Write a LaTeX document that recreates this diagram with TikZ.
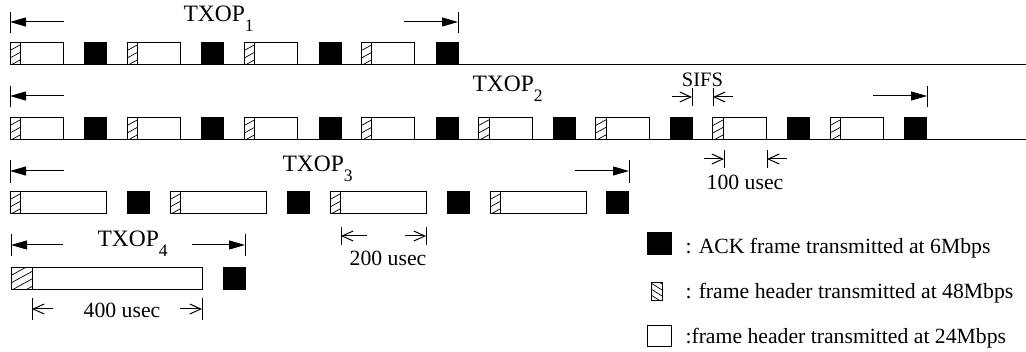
\documentclass[tikz,border=0pt]{standalone}
\usepackage{fontspec}
\setmainfont{Liberation Serif}
\usetikzlibrary{arrows.meta,calc}
\newcommand\labfont{\fontsize{21.7}{26}\selectfont}
\newcommand\txfont{\fontsize{23.5}{28}\selectfont}
\newcommand\subfont{\fontsize{17.5}{20}\selectfont}
\newcommand\txop[1]{TXOP\raisebox{-10pt}{\subfont #1}}

\begin{document}
\begin{tikzpicture}[x=1pt,y=-1pt,line width=1pt,
  hdr/.store in=\hdrw, hdr=10.5,
  hatch/.style={line width=0.7pt},
  ackbox/.style={draw, fill=black, inner sep=0pt, outer sep=0pt,
    minimum width=22pt, minimum height=21.5pt, anchor=north west},
  frm/.style={draw, fill=white, inner sep=0pt, outer sep=0pt,
    minimum width=#1, minimum height=21.5pt, anchor=north west,
    path picture={
      \coordinate (pnw) at (path picture bounding box.north west);
      \coordinate (psw) at (path picture bounding box.south west);
      \foreach \k in {1,...,5}
        \draw[hatch] ($(pnw)+(0,{\k*7.5})$) -- ++(\hdrw,{-0.55*\hdrw});
      \draw ($(pnw)+(\hdrw,0)$) -- ($(psw)+(\hdrw,0)$);
    }},
  keyhdr/.style={draw, fill=white, inner sep=0pt, outer sep=0pt,
    minimum width=11pt, minimum height=18pt, anchor=north west,
    path picture={
      \coordinate (pnw) at (path picture bounding box.north west);
      \foreach \k in {-1,...,3}
        \draw[hatch] ($(pnw)+(0,{\k*6})$) -- ++(11,7);
    }},
  keydat/.style={draw, fill=white, inner sep=0pt, outer sep=0pt,
    minimum width=24pt, minimum height=21pt, anchor=north west},
  txarr/.style={-{Triangle[length=16pt,width=9pt]}},
  dimarr/.style={-{Straight Barb[length=11pt,width=10pt]}},
  lab/.style={inner sep=0pt, font=\labfont},
  txlab/.style={inner sep=0pt, anchor=base west, font=\txfont},
]
\useasboundingbox (0,0) rectangle (1026,352);

% ---------- row 1 ----------
\coordinate (r1end) at (1026,64.5);
\draw (10,64.5) coordinate (r1start) -- (r1end);
\foreach \i in {0,...,3}{
  \node[frm=53.5pt] (r1f\i) at ({10+117.15*\i},43) {};
  \node[ackbox] (r1a\i) at ({84.7+117.15*\i},43) {};
}
\coordinate (r1L) at (10,22);  \coordinate (r1Ls) at (64,22);
\coordinate (r1R) at (458,22); \coordinate (r1Rs) at (404,22);
\draw[txarr] (r1Ls) -- (r1L);
\draw[txarr] (r1Rs) -- (r1R);
\draw ($(r1L)+(0,-10)$) -- ($(r1L)+(0,11)$);
\draw ($(r1R)+(0,-10)$) -- ($(r1R)+(0,11)$);
\node[txlab] (tx1) at (183,22) {\txop{1}};

% ---------- row 2 ----------
\coordinate (r2end) at (1026,139.5);
\draw (10,139.5) coordinate (r2start) -- (r2end);
\foreach \i in {0,...,7}{
  \node[frm=53.5pt] (r2f\i) at ({10+117.15*\i},118) {};
  \node[ackbox] (r2a\i) at ({84.7+117.15*\i},118) {};
}
\coordinate (r2L) at (10,96);  \coordinate (r2Ls) at (64,96);
\coordinate (r2R) at (927,96); \coordinate (r2Rs) at (873,96);
\draw[txarr] (r2Ls) -- (r2L);
\draw[txarr] (r2Rs) -- (r2R);
\draw ($(r2L)+(0,-10)$) -- ($(r2L)+(0,11)$);
\draw ($(r2R)+(0,-10)$) -- ($(r2R)+(0,11)$);
\node[txlab] (tx2) at (472,92) {\txop{2}};

% SIFS gap between ACK and next frame
\coordinate (s1) at (692,97); \coordinate (s1o) at (672,97);
\coordinate (s2) at (713,97); \coordinate (s2o) at (733,97);
\draw ($(s1)+(0,-9)$) -- ($(s1)+(0,9)$);
\draw ($(s2)+(0,-9)$) -- ($(s2)+(0,9)$);
\draw[dimarr] (s1o) -- (s1);
\draw[dimarr] (s2o) -- (s2);
\node[inner sep=0pt, anchor=base, font=\fontsize{20.5}{24}\selectfont] (sifs) at (702.5,86.5) {SIFS};

% 100 usec payload
\coordinate (h1) at (724,159); \coordinate (h1o) at (704,159);
\coordinate (h2) at (767,159); \coordinate (h2o) at (787,159);
\draw ($(h1)+(0,-9)$) -- ($(h1)+(0,9)$);
\draw ($(h2)+(0,-9)$) -- ($(h2)+(0,9)$);
\draw[dimarr] (h1o) -- (h1);
\draw[dimarr] (h2o) -- (h2);
\node[lab, anchor=base] (u100) at (745,190) {100 usec};

% ---------- row 3 ----------
\foreach \i in {0,...,3}{
  \node[frm=96.5pt] (r3f\i) at ({10+160*\i},192) {};
  \node[ackbox] (r3a\i) at ({127.5+159.8*\i},192) {};
}
\coordinate (r3L) at (10,171);  \coordinate (r3Ls) at (64,171);
\coordinate (r3R) at (629,171); \coordinate (r3Rs) at (575,171);
\draw[txarr] (r3Ls) -- (r3L);
\draw[txarr] (r3Rs) -- (r3R);
\draw ($(r3L)+(0,-11)$) -- ($(r3L)+(0,12)$);
\draw ($(r3R)+(0,-11)$) -- ($(r3R)+(0,12)$);
\node[txlab] (tx3) at (282,172) {\txop{3}};

% 200 usec payload
\coordinate (w1) at (341,236); \coordinate (w1i) at (367,236);
\coordinate (w2) at (426,236); \coordinate (w2i) at (405,236);
\draw ($(w1)+(0,-9)$) -- ($(w1)+(0,9)$);
\draw ($(w2)+(0,-9)$) -- ($(w2)+(0,9)$);
\draw[dimarr] (w1i) -- (w1);
\draw[dimarr] (w2i) -- (w2);
\node[lab, anchor=base] (u200) at (388,266) {200 usec};

% ---------- row 4 ----------
\node[frm=191pt, hdr=21] (r4f0) at (11,268) {};
\node[ackbox] (r4a0) at (223,268) {};
\coordinate (r4L) at (11,245);  \coordinate (r4Ls) at (63,245);
\coordinate (r4R) at (245,245); \coordinate (r4Rs) at (192,245);
\draw[txarr] (r4Ls) -- (r4L);
\draw[txarr] (r4Rs) -- (r4R);
\draw ($(r4L)+(0,-11)$) -- ($(r4L)+(0,11)$);
\draw ($(r4R)+(0,-11)$) -- ($(r4R)+(0,11)$);
\node[txlab] (tx4) at (97,247) {\txop{4}};

% 400 usec payload
\coordinate (q1) at (32,309); \coordinate (q1i) at (53,309);
\coordinate (q2) at (202,309); \coordinate (q2i) at (180,309);
\draw ($(q1)+(0,-11)$) -- ($(q1)+(0,11)$);
\draw ($(q2)+(0,-11)$) -- ($(q2)+(0,11)$);
\draw[dimarr] (q1i) -- (q1);
\draw[dimarr] (q2i) -- (q2);
\node[lab, anchor=base] (u400) at (122,318) {400 usec};

% ---------- key ----------
\node[ackbox, minimum width=24pt, minimum height=22pt] (kack) at (647,233) {};
\node[lab, anchor=base west] (kackt) at (685,254) {: ACK frame transmitted at 6Mbps};
\node[keyhdr] (khdr) at (651,283) {};
\node[lab, anchor=base west] (khdrt) at (685,299) {: frame header transmitted at 48Mbps};
\node[keydat] (kdat) at (647,326) {};
\node[lab, anchor=base west] (kdatt) at (685,344) {:frame header transmitted at 24Mbps};
\end{tikzpicture}
\end{document}
